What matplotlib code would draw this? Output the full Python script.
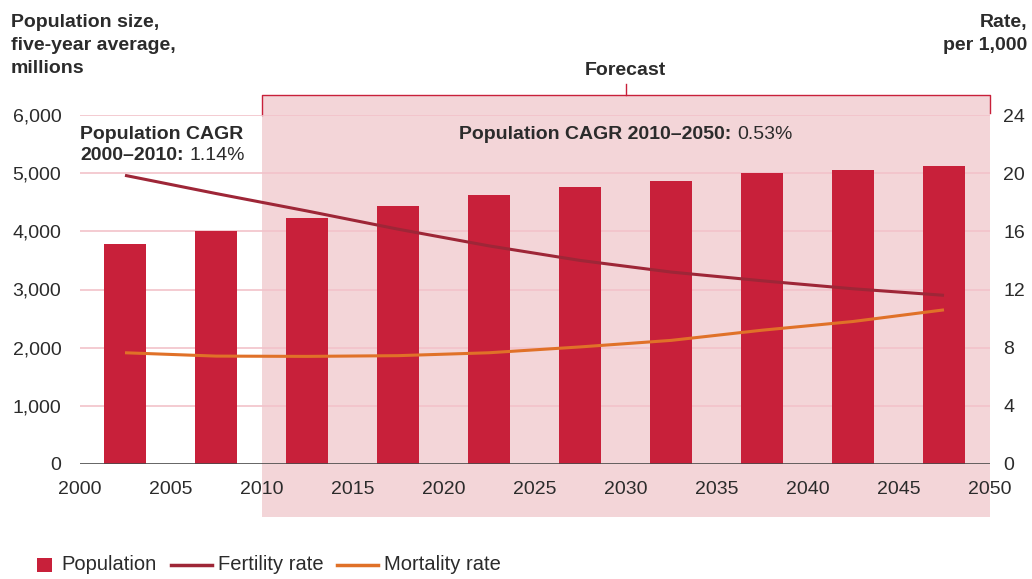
import matplotlib
matplotlib.use("Agg")
import matplotlib.pyplot as plt
from matplotlib.lines import Line2D
from matplotlib.patches import Rectangle

plt.rcParams["font.family"] = ["Liberation Sans", "DejaVu Sans"]

# data (five-year periods, bar at mid-point)
years = [2002.5, 2007.5, 2012.5, 2017.5, 2022.5, 2027.5, 2032.5, 2037.5, 2042.5, 2047.5]
population = [3780, 4000, 4230, 4440, 4620, 4760, 4860, 5000, 5050, 5120]
fertility = [19.85, 18.6, 17.4, 16.15, 15.0, 14.0, 13.2, 12.6, 12.05, 11.6]
mortality = [7.65, 7.42, 7.4, 7.45, 7.65, 8.05, 8.5, 9.2, 9.8, 10.6]
x_ticks = list(range(2000, 2051, 5))
left_ticks = [0, 1000, 2000, 3000, 4000, 5000, 6000]
right_ticks = [0, 4, 8, 12, 16, 20, 24]

BAR = "#C8203A"
SHADE = "#F3D5D8"
GRID = "#F2C2CA"
FERT = "#9E2637"
MORT = "#E07128"
TXT = "#2B2B2B"
FS = 14

W, H = 1032, 579
fig = plt.figure(figsize=(W / 100, H / 100), dpi=100)
x0, x1, y0, y1 = 79.5, 989.5, 464, 115
ax = fig.add_axes([x0 / W, 1 - y0 / H, (x1 - x0) / W, (y0 - y1) / H])
ax.set_xlim(2000, 2050)
ax.set_ylim(0, 6000)

# forecast shading, reaches below the axis
ax.add_patch(Rectangle((2010, -910), 40, 6340 + 910, facecolor=SHADE,
                       edgecolor="none", zorder=0, clip_on=False))
# bracket
kw = dict(color=BAR, lw=1.0, clip_on=False, zorder=1)
ax.plot([2010, 2010, 2050, 2050], [6000, 6340, 6340, 6040], **kw)
ax.plot([2030, 2030], [6340, 6540], **kw)
ax.text(2030, 6690, "Forecast", ha="center", va="baseline", fontsize=FS,
        fontweight="bold", color=TXT)

for v in left_ticks[1:]:
    ax.axhline(v, color=GRID, lw=1.2, zorder=1)
ax.axhline(0, color="#4a4a4a", lw=1.2, zorder=3)

ax.bar(years, population, width=2.3, color=BAR, zorder=2)

for s in ax.spines.values():
    s.set_visible(False)
ax.set_xticks(x_ticks)
ax.set_yticks(left_ticks)
ax.set_yticklabels([f"{v:,}" for v in left_ticks])
ax.tick_params(axis="x", length=0, pad=12, labelsize=FS, labelcolor=TXT)
ax.tick_params(axis="y", length=0, pad=13, labelsize=FS, labelcolor=TXT)

ax2 = ax.twinx()
ax2.set_ylim(0, 24)
ax2.set_yticks(right_ticks)
ax2.tick_params(axis="y", length=0, pad=10, labelsize=FS, labelcolor=TXT)
for s in ax2.spines.values():
    s.set_visible(False)
ax2.plot(years, fertility, color=FERT, lw=2.2, solid_capstyle="butt")
ax2.plot(years, mortality, color=MORT, lw=2.2, solid_capstyle="butt")

# CAGR notes
fig.text(80 / W, 1 - 139 / H, "Population CAGR", fontsize=FS,
         fontweight="bold", color=TXT, va="baseline")
t2 = fig.text(80 / W, 1 - 160 / H, "2000\u20132010:", fontsize=FS,
              fontweight="bold", color=TXT, va="baseline")
fig.canvas.draw()
r = fig.canvas.get_renderer()
bb = t2.get_window_extent(r)
fig.text((bb.x1 + 6) / W, 1 - 160 / H, "1.14%", fontsize=FS, color=TXT,
         va="baseline")

tb = fig.text(0, 1 - 139 / H, "Population CAGR 2010\u20132050:", fontsize=FS,
              fontweight="bold", color=TXT, va="baseline")
tr = fig.text(0, 1 - 139 / H, "0.53%", fontsize=FS, color=TXT, va="baseline")
wb = tb.get_window_extent(r).width
wr = tr.get_window_extent(r).width
start = 626 - (wb + 6 + wr) / 2
tb.set_x(start / W)
tr.set_x((start + wb + 6) / W)

# axis titles
fig.text(11 / W, 1 - 14 / H, "Population size,\nfive-year average,\nmillions",
         fontsize=FS, fontweight="bold", color=TXT, va="top", ha="left",
         linespacing=1.45)
fig.text(1027 / W, 1 - 14 / H, "Rate,\nper 1,000", fontsize=FS,
         fontweight="bold", color=TXT, va="top", ha="right", linespacing=1.45)

# legend drawn by hand
ly = 1 - 565 / H
LFS = 14.5
fig.patches.append(Rectangle((37 / W, 1 - 572 / H), 15 / W, 14 / H,
                             facecolor=BAR, transform=fig.transFigure))
fig.text(61 / W, ly, "Population", fontsize=LFS, color=TXT, va="center")
fig.lines.append(Line2D([171 / W, 212 / W], [ly, ly], color=FERT, lw=2.5,
                        transform=fig.transFigure))
fig.text(218 / W, ly, "Fertility rate", fontsize=LFS, color=TXT, va="center")
fig.lines.append(Line2D([337 / W, 378 / W], [ly, ly], color=MORT, lw=2.5,
                        transform=fig.transFigure))
fig.text(384 / W, ly, "Mortality rate", fontsize=LFS, color=TXT, va="center")

fig.savefig("out.png", dpi=100)
